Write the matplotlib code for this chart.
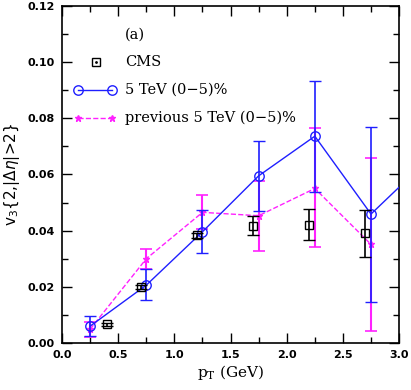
import matplotlib
matplotlib.use("Agg")
import matplotlib.pyplot as plt
from matplotlib.ticker import MultipleLocator

# CMS data
cms_pt = [0.4, 0.7, 1.2, 1.7, 2.2, 2.7]
cms_v3 = [0.0067, 0.0199, 0.0383, 0.0418, 0.0421, 0.0391]
cms_lo = [0.0005, 0.0007, 0.0010, 0.0034, 0.0056, 0.0084]
cms_hi = [0.0005, 0.0007, 0.0010, 0.0034, 0.0055, 0.0082]

# 5 TeV (0-5)%
new_pt = [0.25, 0.75, 1.25, 1.75, 2.25, 2.75, 3.25]
new_v3 = [0.0060, 0.0206, 0.0396, 0.0595, 0.0736, 0.0459, 0.065]
new_lo = [0.0035, 0.0053, 0.0077, 0.0125, 0.0199, 0.0314, 0.020]
new_hi = [0.0037, 0.0056, 0.0077, 0.0125, 0.0197, 0.0311, 0.020]

# previous 5 TeV (0-5)%
old_pt = [0.25, 0.75, 1.25, 1.75, 2.25, 2.75]
old_v3 = [0.0049, 0.0300, 0.0465, 0.0453, 0.0550, 0.0351]
old_lo = [0.0026, 0.0037, 0.0060, 0.0126, 0.0210, 0.0308]
old_hi = [0.0026, 0.0036, 0.0062, 0.0125, 0.0214, 0.0306]

blue = "#1f1fff"
mag = "#ff22ff"

fig = plt.figure(figsize=(4.11, 3.90), dpi=100)
ax = fig.add_axes([0.151, 0.1205, 0.820, 0.8645])

ax.errorbar(old_pt, old_v3, yerr=[old_lo, old_hi], color=mag, ls="--", lw=1.0,
            marker="*", ms=4.5, capsize=4, elinewidth=1.5, capthick=1.2, zorder=3)
ax.errorbar(new_pt, new_v3, yerr=[new_lo, new_hi], color=blue, ls="-", lw=1.0,
            marker="o", ms=6.8, mfc="none", mew=1.0, capsize=4, elinewidth=1.2,
            capthick=1.2, zorder=4)
ax.errorbar(cms_pt, cms_v3, yerr=[cms_lo, cms_hi], color="black", ls="none",
            marker="s", ms=5.5, mfc="none", mew=1.0, capsize=4, elinewidth=1.2,
            capthick=1.2, zorder=5)

ax.set_xlim(0, 3)
ax.set_ylim(0, 0.12)
ax.xaxis.set_major_locator(MultipleLocator(0.5))
ax.xaxis.set_minor_locator(MultipleLocator(0.25))
ax.yaxis.set_major_locator(MultipleLocator(0.02))
ax.yaxis.set_minor_locator(MultipleLocator(0.01))
ax.tick_params(which="both", direction="in", top=True, right=True, width=1.0)
ax.tick_params(which="major", length=7, labelsize=8, pad=5)
ax.tick_params(which="minor", length=4)
ax.xaxis.set_major_formatter(matplotlib.ticker.FormatStrFormatter("%.1f"))
ax.yaxis.set_major_formatter(matplotlib.ticker.FormatStrFormatter("%.2f"))
for lab in ax.get_xticklabels() + ax.get_yticklabels():
    lab.set_fontweight("bold")
for s in ax.spines.values():
    s.set_linewidth(1.2)

ax.set_xlabel(r"p$_\mathregular{T}$ (GeV)", family="DejaVu Serif", fontsize=11, labelpad=2)
ax.set_ylabel(r"v$_\mathregular{3}${2,|$\Delta\eta$|>2}", family="DejaVu Sans", fontsize=11, labelpad=4)

# legend drawn by hand
tf = ax.transAxes
fs = 10.5
ax.text(0.187, 0.914, "(a)", transform=tf, family="DejaVu Serif", fontsize=fs, va="center")
ax.plot([0.10], [0.834], transform=tf, marker="s", ms=5.5, mfc="none", mec="black", mew=1.0, ls="none")
ax.plot([0.10], [0.834], transform=tf, marker=".", ms=2, color="black", ls="none")
ax.text(0.187, 0.834, "CMS", transform=tf, family="DejaVu Serif", fontsize=fs, va="center")
ax.plot([0.048, 0.148], [0.751, 0.751], transform=tf, color=blue, lw=1.0, marker="o",
        ms=6.8, mfc="none", mew=1.0)
ax.text(0.187, 0.751, "5 TeV (0\u22125)%", transform=tf, family="DejaVu Serif", fontsize=fs, va="center")
ax.plot([0.048, 0.148], [0.668, 0.668], transform=tf, color=mag, lw=1.0, ls="--",
        marker="*", ms=5)
ax.text(0.187, 0.668, "previous 5 TeV (0\u22125)%", transform=tf, family="DejaVu Serif",
        fontsize=fs, va="center")

fig.savefig("out.png", dpi=100)
